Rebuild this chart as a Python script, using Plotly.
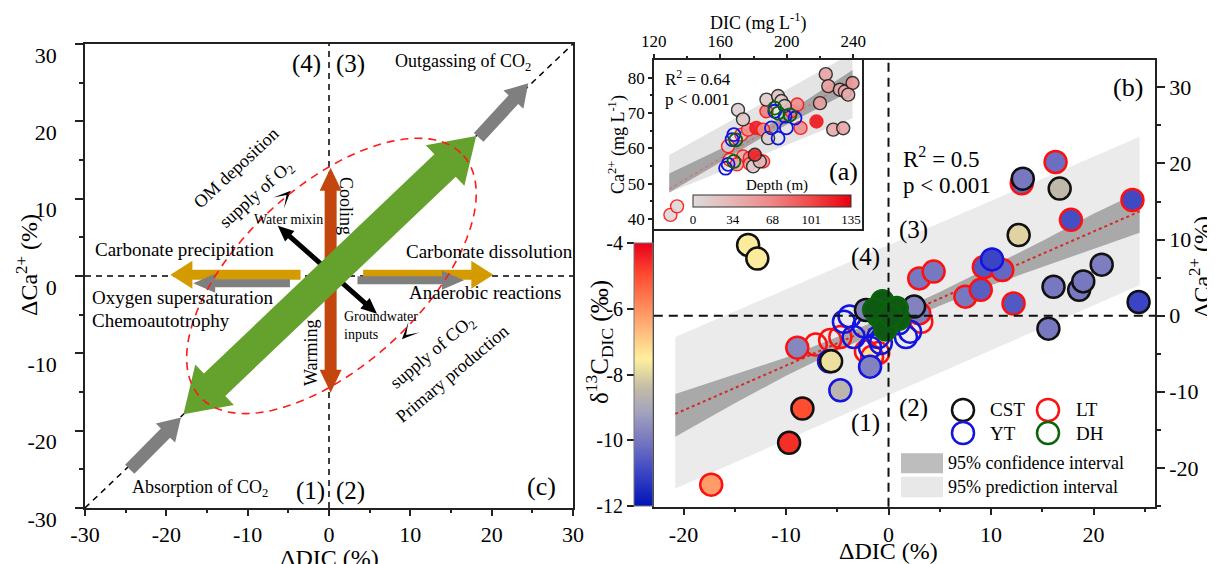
import math
import plotly.graph_objects as go

OFF = 8                      # default page margin of the browser body
W, H = 1215 - OFF, 564 - OFF  # figure size so that it fits the window
FONT = "Liberation Serif"

# ---------------- Panel (b): ΔDIC (%), ΔCa2+ (%), δ13C-DIC (‰) ----------------
cst_dic = [-13.7, -12.8, -5.6, -8.4, -9.7, -0.65, -2.2, 2.5, 13.1, 16.7, 12.7, 16.1, 18.6, 19.0, 20.8, 24.4, 15.6]
cst_ca = [9.3, 7.5, -6.0, -12.2, -16.7, 1.6, 0.75, 1.2, 18.0, 16.7, 10.6, 3.8, 3.4, 4.5, 6.7, 1.8, -1.7]
cst_d13c = [-7.6, -7.6, -7.8, -5.0, -4.6, -9.8, -9.8, -9.8, -10.0, -8.5, -8.0, -10.0, -10.0, -10.0, -9.9, -11.0, -10.0]

lt_dic = [-17.3, -8.9, -1.6, 3.0, 3.0, 4.4, 7.5, 9.0, 9.3, 11.1, 12.2, 13.0, 16.3, 17.8, 23.8]
lt_ca = [-22.2, -4.2, -5.4, 0.3, 4.9, 5.8, 2.5, 3.4, 6.4, 6.0, 1.6, 17.4, 20.2, 12.6, 15.2]
lt_d13c = [-6.2, -9.7, -7.3, -9.9, -10.0, -10.0, -10.0, -10.5, -10.6, -10.3, -10.6, -10.3, -10.2, -10.8, -10.9]
lt_open_dic = [-7.1, -5.7, -4.7, -2.2, -1.0, 3.2]
lt_open_ca = [-3.8, -3.2, -2.8, -4.7, -4.9, -0.8]

yt_dic = [10.1, -1.8, -4.7]
yt_ca = [7.4, -6.7, -9.8]
yt_d13c = [-11.0, -9.8, -8.6]
yt_open_dic = [-4.35, -3.8, -3.4, -2.4, -1.8, -1.0, 1.7, 2.1, 1.0, -0.75, -5.8]
yt_open_ca = [-0.8, -0.1, -2.8, -1.4, -4.2, -2.8, -2.8, -2.1, -1.0, -3.6, -6.0]

dh_dic = [-0.6, 0.4, -1.0, 0.0, 1.0, -0.3, 0.8, -1.4, 0.2]
dh_ca = [1.9, 0.6, 0.0, -1.0, -0.4, -1.8, 1.0, 0.8, 0.0]

fit_b_x = [-20.8, 24.5]
fit_b_y = [-12.9, 13.7]
pi_b_x = [-20.8, 24.5]
pi_b_hi = [-2.8, 23.5]
pi_b_lo = [-22.7, 4.0]
ci_b_x = [-20.8, -15, -10, -5, 0, 5, 10, 15, 20, 24.5]
ci_b_hi = [-10.3, -7.7, -5.5, -2.8, 0.0, 3.1, 6.4, 9.8, 13.4, 16.3]
ci_b_lo = [-15.9, -11.5, -7.9, -4.6, -1.6, 1.3, 4.0, 6.4, 8.8, 10.9]

# ---------------- Panel (a) inset: DIC, Ca2+ (mg/L), depth (m) ----------------
a_cst_dic = [223.5, 225, 232, 235, 239.6, 237, 220, 228, 234, 187.8, 194.8, 196.8, 198.8, 170.7, 173.7, 188.8, 179.8, 183.8, 180.8]
a_cst_ca = [81.0, 77.6, 76.6, 76.1, 78.5, 75.2, 72.8, 65.3, 65.7, 73.8, 74.8, 73.4, 72.0, 70.9, 68.2, 62.9, 54.9, 56.3, 58.2]
a_cst_dep = [45, 50, 40, 45, 55, 40, 50, 40, 45, 15, 20, 15, 20, 10, 15, 10, 10, 30, 115]
a_lt_dic = [164.7, 165.7, 172.7, 176.7, 181.7, 185.8, 187.8, 202.8, 206.3, 208.3, 173.7, 177.8, 181.7, 185.8, 177.9, 170.0, 217.9, 130.0, 134.0]
a_lt_ca = [60.6, 56.8, 63.9, 65.3, 65.8, 65.3, 70.5, 70.5, 72.4, 65.8, 57.7, 57.3, 57.3, 56.3, 55.6, 55.5, 67.6, 41.2, 43.6]
a_lt_dep = [10, 10, 30, 60, 120, 60, 70, 70, 60, 60, 40, 60, 110, 60, 50, 40, 125, 5, 5]
a_yt_dic = [168.2, 167.1, 164.7, 163.2, 192.8, 199.0, 205.0, 194.8, 190.8, 199.8]
a_yt_ca = [63.9, 62.5, 55.5, 54.4, 70.5, 69.1, 68.6, 62.9, 65.8, 65.8]
a_dh_dic = [169.3, 168.2, 192.8, 194.8, 201.9]
a_dh_ca = [62.4, 56.3, 71.4, 70.0, 69.5]

fit_a_x = [129.3, 239.6]
fit_a_y = [48.5, 79.5]
pi_a_x = [129.3, 239.6]
pi_a_hi = [58.1, 87.0]
pi_a_lo = [47.5, 68.5]
ci_a_x = [129.3, 185.0, 239.6]
ci_a_hi = [52.9, 65.4, 82.2]
ci_a_lo = [47.5, 63.0, 76.5]

# ---------------- tick labels ----------------
c_ticks = [-30, -20, -10, 0, 10, 20, 30]
c_ticktext = ["-30", "-20", "-10", "0", "10", "20", "30"]
b_xticks = [-20, -10, 0, 10, 20]
b_xticktext = ["-20", "-10", "0", "10", "20"]
b_yticks = [-20, -10, 0, 10, 20, 30]
b_yticktext = ["-20", "-10", "0", "10", "20", "30"]
d13c_ticks = [-12, -10, -8, -6, -4]
d13c_ticktext = ["-12", "-10", "-8", "-6", "-4"]
a_xticks = [120, 160, 200, 240]
a_yticks = [40, 50, 60, 70, 80]
depth_ticks = [0, 34, 68, 101, 135]

# ---------------- colours ----------------
GREEN = "#64a12d"
RUST = "#c4460f"
GOLD = "#d49b00"
GRAY = "#7f7f7f"
cs_d13c = [[0, "#0014b4"], [0.125, "#3a44c4"], [0.25, "#7878c0"], [0.36, "#a4a4be"],
           [0.45, "#c4bca6"], [0.56, "#fff09c"], [0.66, "#ffbd80"], [0.76, "#ff8a5a"],
           [0.88, "#ff4a30"], [1, "#e8001a"]]
cs_depth = [[0, "#dcdcdc"], [0.25, "#e6b4b4"], [0.5, "#ee8686"], [0.75, "#f04848"], [1, "#e8000e"]]


def P(xp, yp):
    """page pixel -> paper coordinates"""
    return (xp - OFF) / W, 1 - (yp - OFF) / H


def dom_x(a, b):
    return [P(a, 0)[0], P(b, 0)[0]]


def dom_y(top, bottom):
    return [P(0, bottom)[1], P(0, top)[1]]


# ---- panel (c) pixel mapping (page pixels) ----
CX0, CX1, CY0, CY1 = 85.0, 573.0, 43.9, 507.9


def c_to_px(x, y):
    return CX0 + (x + 30) / 60 * (CX1 - CX0), CY1 - (y + 30) / 60 * (CY1 - CY0)


def c_from_px(X, Y):
    return (X - CX0) / (CX1 - CX0) * 60 - 30, (CY1 - Y) / (CY1 - CY0) * 60 - 30


def arrow_path(tail, tip, sw, hw, hl, double):
    x0, y0 = c_to_px(*tail)
    x1, y1 = c_to_px(*tip)
    dx, dy = x1 - x0, y1 - y0
    L = math.hypot(dx, dy)
    ux, uy = dx / L, dy / L
    nx, ny = -uy, ux

    def off(px, py, d, w):
        return (px + ux * d + nx * w, py + uy * d + ny * w)

    pts = []
    if double:
        pts += [(x0, y0), off(x0, y0, hl, hw / 2), off(x0, y0, hl, sw / 2)]
    else:
        pts += [off(x0, y0, 0, sw / 2)]
    pts += [off(x1, y1, -hl, sw / 2), off(x1, y1, -hl, hw / 2), (x1, y1),
            off(x1, y1, -hl, -hw / 2), off(x1, y1, -hl, -sw / 2)]
    if double:
        pts += [off(x0, y0, hl, -sw / 2), off(x0, y0, hl, -hw / 2)]
    else:
        pts += [off(x0, y0, 0, -sw / 2)]
    data = [c_from_px(*p) for p in pts]
    return "M " + " L ".join(f"{x:.3f},{y:.3f}" for x, y in data) + " Z"


def chevron_path(tip, back, length, width, notch):
    x1, y1 = c_to_px(*tip)
    x0, y0 = c_to_px(*back)
    dx, dy = x1 - x0, y1 - y0
    L = math.hypot(dx, dy)
    ux, uy = dx / L, dy / L
    nx, ny = -uy, ux
    pts = [(x1, y1),
           (x1 - ux * length + nx * width / 2, y1 - uy * length + ny * width / 2),
           (x1 - ux * notch, y1 - uy * notch),
           (x1 - ux * length - nx * width / 2, y1 - uy * length - ny * width / 2)]
    data = [c_from_px(*p) for p in pts]
    return "M " + " L ".join(f"{x:.3f},{y:.3f}" for x, y in data) + " Z"


# schematic arrows of panel (c): tail, tip, shaft px, head px, head length px, colour, double
arrows_c = [
    ((-3.5, 0.15), (-19.5, 0.15), 10, 28, 22, GOLD, False),
    ((4.2, 0.15), (20.2, 0.15), 10, 28, 22, GOLD, False),
    ((-4.8, -0.95), (-16.7, -0.95), 8, 19, 22, GRAY, False),
    ((3.5, -0.55), (16.6, -0.55), 8, 19, 22, GRAY, False),
    ((0.2, -15.1), (0.2, 14.0), 12, 22, 23, RUST, True),
    ((-6.3, 6.5), (5.9, -4.9), 5, 14, 16, "black", True),
    ((-17.9, -17.9), (18.1, 18.1), 31, 56, 43, GREEN, True),
    ((18.4, 17.9), (24.5, 24.9), 13, 27, 22, GRAY, False),
    ((-24.5, -25.0), (-18.2, -18.3), 13, 27, 22, GRAY, False),
]
chevrons_c = [((-4.7, 11.0), (-6.8, 8.8)), ((8.96, -8.2), (11.3, -5.7))]
ellipse_c = dict(cx=0.3, cy=0.0, a=22.5, b=11.3, angle=45)

fig = go.Figure()

# dummy traces to create axes
fig.add_trace(go.Scatter(x=[None], y=[None], xaxis="x", yaxis="y", showlegend=False))
fig.add_trace(go.Scatter(x=[None], y=[None], xaxis="x2", yaxis="y4", showlegend=False))

# ---- panel (b) bands ----
fig.add_trace(go.Scatter(x=pi_b_x + pi_b_x[::-1], y=pi_b_hi + pi_b_lo[::-1], fill="toself",
                         fillcolor="#ebebeb", line=dict(width=0), mode="lines",
                         xaxis="x2", yaxis="y2", showlegend=False, hoverinfo="skip"))
fig.add_trace(go.Scatter(x=ci_b_x + ci_b_x[::-1], y=ci_b_hi + ci_b_lo[::-1], fill="toself",
                         fillcolor="#a9a9a9", line=dict(width=0), mode="lines",
                         xaxis="x2", yaxis="y2", showlegend=False, hoverinfo="skip"))
fig.add_trace(go.Scatter(x=fit_b_x, y=fit_b_y, mode="lines", line=dict(color="#d42a2a", width=2, dash="dot"),
                         xaxis="x2", yaxis="y2", showlegend=False))

MS, MLW = 22, 2.5
LTC, YTC, DHC = "#ff1010", "#1414e0", "#0b640b"


def main_pts(x, y, c, edge):
    return go.Scatter(x=x, y=y, mode="markers", xaxis="x2", yaxis="y2", showlegend=False,
                      marker=dict(size=MS, color=c, coloraxis="coloraxis", line=dict(color=edge, width=MLW)))


def open_pts(x, y, edge, fill="rgba(0,0,0,0)"):
    return go.Scatter(x=x, y=y, mode="markers", xaxis="x2", yaxis="y2", showlegend=False,
                      marker=dict(size=MS, color=fill, line=dict(color=edge, width=MLW)))


fig.add_trace(open_pts(lt_open_dic, lt_open_ca, LTC))
fig.add_trace(main_pts(lt_dic, lt_ca, lt_d13c, LTC))
fig.add_trace(open_pts(yt_open_dic, yt_open_ca, YTC))
fig.add_trace(main_pts(yt_dic, yt_ca, yt_d13c, YTC))
fig.add_trace(main_pts(cst_dic, cst_ca, cst_d13c, "#111111"))
fig.add_trace(open_pts(dh_dic, dh_ca, DHC, fill="#0e5a14"))

# ---- panel (a) inset ----
fig.add_trace(go.Scatter(x=pi_a_x + pi_a_x[::-1], y=pi_a_hi + pi_a_lo[::-1], fill="toself",
                         fillcolor="#e4e4e4", line=dict(width=0), mode="lines",
                         xaxis="x3", yaxis="y3", showlegend=False, hoverinfo="skip"))
fig.add_trace(go.Scatter(x=ci_a_x + ci_a_x[::-1], y=ci_a_hi + ci_a_lo[::-1], fill="toself",
                         fillcolor="#a4a4a4", line=dict(width=0), mode="lines",
                         xaxis="x3", yaxis="y3", showlegend=False, hoverinfo="skip"))
fig.add_trace(go.Scatter(x=fit_a_x, y=fit_a_y, mode="lines", line=dict(color="#e06a6a", width=1.2, dash="dot"),
                         xaxis="x3", yaxis="y3", showlegend=False))

AMS, AMLW = 13, 1.4


def ins_pts(x, y, c, edge):
    return go.Scatter(x=x, y=y, mode="markers", xaxis="x3", yaxis="y3", showlegend=False,
                      marker=dict(size=AMS, color=c, coloraxis="coloraxis2", opacity=0.9,
                                  line=dict(color=edge, width=AMLW)))


def ins_open(x, y, edge):
    return go.Scatter(x=x, y=y, mode="markers", xaxis="x3", yaxis="y3", showlegend=False,
                      marker=dict(size=AMS, color="rgba(0,0,0,0)", line=dict(color=edge, width=AMLW + 0.4)))


fig.add_trace(ins_pts(a_lt_dic, a_lt_ca, a_lt_dep, LTC))
fig.add_trace(ins_pts(a_cst_dic, a_cst_ca, a_cst_dep, "#222222"))
fig.add_trace(ins_open(a_yt_dic, a_yt_ca, YTC))
fig.add_trace(ins_open(a_dh_dic, a_dh_ca, DHC))

# ---------------- shapes ----------------
shapes = []
dash_c = dict(color="black", width=1.5, dash="6px,5px")
shapes.append(dict(type="line", xref="x", yref="y", x0=-30, y0=-30, x1=30, y1=30, line=dash_c))
shapes.append(dict(type="line", xref="x", yref="y", x0=0, y0=-30, x1=0, y1=30, line=dash_c))
shapes.append(dict(type="line", xref="x", yref="y", x0=-30, y0=0, x1=30, y1=0, line=dash_c))
for tail, tip, sw, hw, hl, col, dbl in arrows_c:
    shapes.append(dict(type="path", xref="x", yref="y", path=arrow_path(tail, tip, sw, hw, hl, dbl),
                       fillcolor=col, line=dict(width=0)))
for tip, back in chevrons_c:
    shapes.append(dict(type="path", xref="x", yref="y", path=chevron_path(tip, back, 17, 15, 6),
                       fillcolor="black", line=dict(width=0)))
e = ellipse_c
ca, sa = math.cos(math.radians(e["angle"])), math.sin(math.radians(e["angle"]))
ell = []
for i in range(121):
    t = 2 * math.pi * i / 120
    u, v = e["a"] * math.cos(t), e["b"] * math.sin(t)
    ell.append((e["cx"] + u * ca - v * sa, e["cy"] + u * sa + v * ca))
shapes.append(dict(type="path", xref="x", yref="y",
                   path="M " + " L ".join(f"{x:.3f},{y:.3f}" for x, y in ell) + " Z",
                   line=dict(color="#ff1a1a", width=1.6, dash="8px,6px")))

# panel (b) dashed zero lines
dash_b = dict(color="#111111", width=2, dash="9px,6px")
shapes.append(dict(type="line", xref="x2", yref="y2 domain", x0=0, x1=0, y0=0, y1=1, line=dash_b))
shapes.append(dict(type="line", xref="x2 domain", yref="y2", x0=0, x1=1, y0=0, y1=0, line=dash_b))

# legend of panel (b)
for (cx, cy, col) in [(963, 410, "#111111"), (1048, 410, LTC), (963, 433, YTC), (1048, 433, DHC)]:
    xa, ya = P(cx - 11, cy - 11)
    xb, yb = P(cx + 11, cy + 11)
    shapes.append(dict(type="circle", xref="paper", yref="paper", x0=xa, x1=xb, y0=yb, y1=ya,
                       line=dict(color=col, width=2.5)))
for (y0p, y1p, col) in [(453.3, 473.3, "#bdbdbd"), (476.7, 497.3, "#e8e8e8")]:
    xa, ya = P(901, y0p)
    xb, yb = P(943, y1p)
    shapes.append(dict(type="rect", xref="paper", yref="paper", x0=xa, x1=xb, y0=yb, y1=ya,
                       fillcolor=col, line=dict(width=0)))

# ---------------- annotations ----------------
anns = []


def ann(text, xp, yp, size, angle=0, xanchor="center", color="black"):
    x, y = P(xp, yp)
    anns.append(dict(text=text, x=x, y=y, xref="paper", yref="paper", showarrow=False,
                     xanchor=xanchor, yanchor="middle", textangle=angle,
                     font=dict(family=FONT, size=size, color=color)))


# panel (c)
ann("(4)", 306, 64, 25)
ann("(3)", 350, 64, 25)
ann("Outgassing of CO<sub>2</sub>", 393, 62, 18, xanchor="left")
ann("OM deposition", 236, 168, 18, angle=-43)
ann("supply of O<sub>2</sub>", 256, 195, 18, angle=-42)
ann("Cooling", 346, 206, 18, angle=90)
ann("Water mixin", 252, 219, 14, xanchor="left")
ann("Carbonate precipitation", 93, 250, 19, xanchor="left")
ann("Carbonate dissolution", 404, 252, 19, xanchor="left")
ann("Oxygen supersaturation", 90, 297, 19, xanchor="left")
ann("Chemoautotrophy", 90, 320, 19, xanchor="left")
ann("Anaerobic reactions", 407, 292, 19, xanchor="left")
ann("Groundwater", 342, 316, 14, xanchor="left")
ann("inputs", 342, 334, 14, xanchor="left")
ann("Warming", 311, 353, 18, angle=-90)
ann("supply of CO<sub>2</sub>", 432, 353, 18, angle=-40)
ann("Primary production", 452, 374, 18, angle=-40)
ann("Absorption of CO<sub>2</sub>", 130, 488, 18, xanchor="left")
ann("(1)", 310, 491, 25)
ann("(2)", 350, 491, 25)
ann("(c)", 541, 486, 26)
ann("ΔDIC (%)", 329, 558, 24)
ann("ΔCa<sup>2+</sup> (%)", 27, 265, 24, angle=-90)

# panel (b)
ann("R<sup>2</sup> = 0.5", 901, 157, 23, xanchor="left")
ann("p &lt; 0.001", 901, 185, 23, xanchor="left")
ann("(b)", 1128, 87, 26)
ann("(3)", 913, 230, 25)
ann("(4)", 865, 257, 25)
ann("(1)", 865, 423, 25)
ann("(2)", 913, 408, 25)
ann("CST", 988, 410, 19, xanchor="left")
ann("LT", 1074, 410, 19, xanchor="left")
ann("YT", 988, 433, 19, xanchor="left")
ann("DH", 1074, 433, 19, xanchor="left")
ann("95% confidence interval", 946, 463, 18, xanchor="left")
ann("95% prediction interval", 946, 487, 18, xanchor="left")
ann("ΔDIC (%)", 888, 551, 24)
ann("ΔCa<sup>2+</sup> (%)", 1200, 267, 24, angle=-90)
ann("δ<sup>13</sup>C<sub>DIC</sub> (‰)", 599, 342, 25, angle=-90)

# panel (a)
ann("R<sup>2</sup> = 0.64", 663, 78, 17, xanchor="left")
ann("p &lt; 0.001", 663, 100, 17, xanchor="left")
ann("(a)", 844, 172, 26)
ann("Depth (m)", 777, 185, 15)
ann("DIC (mg L<sup>-1</sup>)", 758, 22, 18)
ann("Ca<sup>2+</sup> (mg L<sup>-1</sup>)", 617, 145, 18, angle=-90)

# ---------------- axes ----------------
tf = lambda s: dict(family=FONT, size=s, color="black")
common = dict(showgrid=False, zeroline=False, showline=True, linecolor="#222222", linewidth=1.5,
              mirror=True, ticks="outside", tickcolor="#222222", tickwidth=1.5, automargin=False)

layout = dict(
    width=W, height=H, margin=dict(l=0, r=0, t=0, b=0, autoexpand=False),
    paper_bgcolor="white", plot_bgcolor="rgba(0,0,0,0)",
    font=dict(family=FONT, color="black"),
    showlegend=False,
    xaxis=dict(domain=dom_x(CX0, CX1), range=[-30, 30], anchor="y",
               tickvals=c_ticks, ticktext=c_ticktext, ticklen=6, tickfont=tf(22),
               minor=dict(tickvals=[-25, -15, -5, 5, 15, 25], ticklen=3, ticks="outside", tickcolor="#222222"),
               **common),
    yaxis=dict(domain=dom_y(CY0, CY1), range=[-30, 30], anchor="x",
               tickvals=c_ticks, ticktext=c_ticktext, ticklen=8, tickfont=tf(22),
               ticklabelshift=11, ticklabelstandoff=14,
               minor=dict(tickvals=[-25, -15, -5, 5, 15, 25], ticklen=4, ticks="outside", tickcolor="#222222"),
               **common),
    xaxis2=dict(domain=dom_x(653.8, 1155), range=[-22.9, 26.0], anchor="y2",
                tickvals=b_xticks, ticktext=b_xticktext, ticklen=7, tickfont=tf(22),
                minor=dict(tickvals=[-15, -5, 5, 15, 25], ticklen=4, ticks="outside", tickcolor="#222222"),
                **common),
    yaxis2=dict(domain=dom_y(60, 506.7), range=[-25.1, 33.6], anchor="x2", side="right",
                tickvals=b_yticks, ticktext=b_yticktext, ticklen=8, tickfont=tf(22),
                minor=dict(tickvals=[-25, -15, -5, 5, 15, 25], ticklen=4, ticks="outside", tickcolor="#222222"),
                **common),
    xaxis3=dict(domain=dom_x(653.8, 862), range=[120, 245.3], anchor="y3", side="top",
                tickvals=a_xticks, ticklen=4, tickfont=tf(17),
                minor=dict(tickvals=[140, 180, 220], ticklen=2, ticks="outside", tickcolor="#222222"),
                **common),
    yaxis3=dict(domain=dom_y(60, 229), range=[37.2, 85], anchor="x3",
                tickvals=a_yticks, ticklen=4, tickfont=tf(17),
                minor=dict(tickvals=[45, 55, 65, 75], ticklen=2, ticks="outside", tickcolor="#222222"),
                **common),
    yaxis4=dict(domain=dom_y(243, 506), range=[-12, -4], anchor="free", position=P(634, 0)[0],
                side="left", tickvals=d13c_ticks, ticktext=d13c_ticktext, ticks="outside", ticklen=7,
                tickcolor="#222222", tickwidth=1.5, tickfont=tf(20), automargin=False,
                showgrid=False, zeroline=False, showline=False),
    coloraxis=dict(colorscale=cs_d13c, cmin=-12, cmax=-4,
                   colorbar=dict(x=P(634, 0)[0], xanchor="left", y=P(0, 506)[1], yanchor="bottom",
                                 len=263, lenmode="pixels", thickness=19, thicknessmode="pixels",
                                 showticklabels=False, ticks="", outlinewidth=1, outlinecolor="#777777",
                                 xpad=0, ypad=0)),
    coloraxis2=dict(colorscale=cs_depth, cmin=0, cmax=135,
                    colorbar=dict(orientation="h", x=P(772, 0)[0], xanchor="center", y=P(0, 195)[1],
                                  yanchor="top", len=158, lenmode="pixels", thickness=12,
                                  thicknessmode="pixels", tickvals=depth_ticks, ticks="",
                                  tickfont=tf(13), outlinewidth=1, outlinecolor="#333333",
                                  xpad=0, ypad=0)),
    shapes=shapes,
    annotations=anns,
)
fig.update_layout(**layout)
fig.write_html("out.html")
